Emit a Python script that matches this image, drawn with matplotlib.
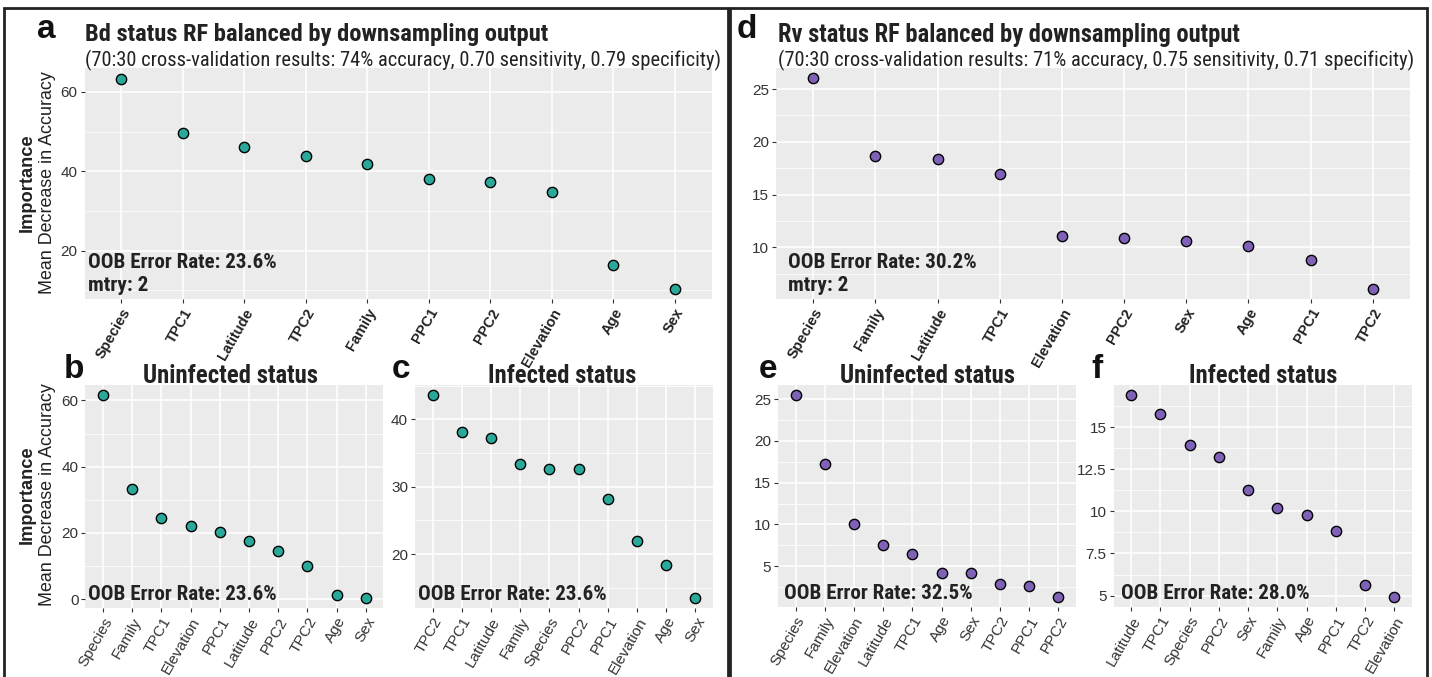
import matplotlib
matplotlib.use("Agg")
import numpy as np
from matplotlib import pyplot as plt
from matplotlib import font_manager as fm
from matplotlib.ticker import MultipleLocator, FormatStrFormatter
from matplotlib.patches import Rectangle

# data
a_vars = ["Species", "TPC1", "Latitude", "TPC2", "Family", "PPC1", "PPC2", "Elevation", "Age", "Sex"]
a_vals = [63.4, 49.6, 46.2, 44.0, 41.9, 38.2, 37.4, 34.8, 16.4, 10.5]
b_vars = ["Species", "Family", "TPC1", "Elevation", "PPC1", "Latitude", "PPC2", "TPC2", "Age", "Sex"]
b_vals = [61.6, 33.2, 24.5, 22.0, 20.3, 17.7, 14.5, 10.1, 1.3, 0.4]
c_vars = ["TPC2", "TPC1", "Latitude", "Family", "Species", "PPC2", "PPC1", "Elevation", "Age", "Sex"]
c_vals = [43.6, 38.2, 37.2, 33.4, 32.7, 32.7, 28.2, 22.0, 18.4, 13.5]
d_vars = ["Species", "Family", "Latitude", "TPC1", "Elevation", "PPC2", "Sex", "Age", "PPC1", "TPC2"]
d_vals = [26.0, 18.7, 18.4, 16.95, 11.1, 10.9, 10.6, 10.1, 8.8, 6.1]
e_vars = ["Species", "Family", "Elevation", "Latitude", "TPC1", "Age", "Sex", "TPC2", "PPC1", "PPC2"]
e_vals = [25.5, 17.2, 10.0, 7.5, 6.4, 4.2, 4.2, 2.8, 2.6, 1.3]
f_vars = ["Latitude", "TPC1", "Species", "PPC2", "Sex", "Family", "Age", "PPC1", "TPC2", "Elevation"]
f_vals = [16.9, 15.8, 13.95, 13.2, 11.25, 10.18, 9.78, 8.85, 5.6, 4.92]

TEAL = "#2aa89a"
PURPLE = "#7f62b8"
SANS = ["Liberation Sans", "DejaVu Sans"]
INK = "#222222"


def find_condensed(bold):
    # look for any condensed / narrow sans installed, else None
    pref = ["Roboto Condensed", "Liberation Sans Narrow", "Open Sans Condensed",
            "DejaVu Sans Condensed", "Noto Sans Condensed", "DejaVu Sans"]
    best = None
    for f in fm.fontManager.ttflist:
        st = f.stretch
        cond = ("Condensed" in f.name or "Narrow" in f.name or
                st in ("condensed", "semi-condensed", "extra-condensed") or
                (isinstance(st, (int, float)) and st < 500))
        if not cond or f.style != "normal":
            continue
        w = f.weight if isinstance(f.weight, (int, float)) else fm.weight_dict.get(f.weight, 400)
        if bold != (w >= 600):
            continue
        rank = pref.index(f.name) if f.name in pref else len(pref)
        key = (rank, abs(w - (700 if bold else 400)))
        if best is None or key < best[0]:
            best = (key, f.fname)
    return best[1] if best else None


cond_reg = find_condensed(False)
cond_bold = find_condensed(True)


def cprops(bold):
    path = cond_bold if bold else cond_reg
    if path:
        return fm.FontProperties(fname=path)
    return fm.FontProperties(family="DejaVu Sans", weight="bold" if bold else "normal")


W, H = 1432, 677
fig = plt.figure(figsize=(W / 100, H / 100), dpi=100)
renderer = fig.canvas.get_renderer()
to_fit = []


def box(x0, y0, x1, y1):
    # pixel coords (top-left origin) -> figure fraction
    return [x0 / W, 1 - y1 / H, (x1 - x0) / W, (y1 - y0) / H]


def ftext(x, y, s, **kw):
    return fig.text(x / W, 1 - y / H, s, **kw)


def ctext(obj, s, width, bold, x, y, **kw):
    # condensed text whose size is fit to the width seen in the reference
    t = obj.text(x, y, s, fontproperties=cprops(bold), color=INK, **kw)
    t.set_fontsize(12)
    to_fit.append((t, width))
    return t


def panel(rect, vars, vals, color, major, bold_x, oob, mtry=None, oob_x=0.01, oob_y=0.06):
    ax = fig.add_axes(box(*rect))
    ax.set_facecolor("#ebebeb")
    x = np.arange(len(vars))
    ax.scatter(x, vals, s=55, c=color, edgecolors="black", linewidths=1.0, zorder=3)
    ax.set_xlim(-0.6, len(vars) - 0.4)
    lo, hi = min(vals), max(vals)
    pad = (hi - lo) * 0.05
    ax.set_ylim(lo - pad, hi + pad)
    ax.yaxis.set_major_locator(MultipleLocator(major))
    ax.yaxis.set_minor_locator(MultipleLocator(major / 2))
    ax.yaxis.set_major_formatter(FormatStrFormatter("%g"))
    ax.set_xticks(x)
    if bold_x:
        ax.set_xticklabels(vars, rotation=60, ha="right", rotation_mode="anchor",
                           fontsize=10.5, fontweight="bold", family=SANS, color=INK)
    else:
        ax.set_xticklabels(vars, rotation=60, ha="right", rotation_mode="anchor",
                           fontsize=11, family=SANS, color="#333333")
    for lab in ax.get_yticklabels():
        lab.set_fontsize(11)
        lab.set_family(SANS)
        lab.set_color("#333333")
    ax.grid(which="major", color="white", linewidth=1.1)
    ax.grid(which="minor", axis="y", color="white", linewidth=0.55)
    ax.set_axisbelow(True)
    ax.tick_params(which="major", length=3, color="#333333", width=0.8, pad=2)
    ax.tick_params(which="minor", length=0)
    for sp in ax.spines.values():
        sp.set_visible(False)
    pw = (rect[2] - rect[0])
    ctext(ax, "OOB Error Rate: " + oob, 189 / pw, True, oob_x, oob_y + (0.1 if mtry else 0),
          transform=ax.transAxes, va="center")
    if mtry:
        ctext(ax, "mtry: " + mtry, 60 / pw, True, oob_x, oob_y, transform=ax.transAxes, va="center")
    return ax


# outer boxes, open at the bottom edge like the crop in the reference
fig.patches.append(Rectangle((4 / W, -0.05), 724 / W, 1.05 - 8 / H, transform=fig.transFigure,
                             fill=False, edgecolor=INK, linewidth=2))
fig.patches.append(Rectangle((729.5 / W, -0.05), 697.5 / W, 1.05 - 8 / H, transform=fig.transFigure,
                             fill=False, edgecolor=INK, linewidth=2))

# Bd panels
panel((84.5, 68, 711.5, 299), a_vars, a_vals, TEAL, 20, True, "23.6%", "2", 0.006, 0.06)
panel((85.4, 385, 383.4, 608), b_vars, b_vals, TEAL, 20, False, "23.6%", None, 0.01, 0.06)
panel((415, 385, 713, 608), c_vars, c_vals, TEAL, 10, False, "23.6%", None, 0.01, 0.06)

# Rv panels
panel((776, 68, 1410, 299), d_vars, d_vals, PURPLE, 5, True, "30.2%", "2", 0.019, 0.06)
panel((778, 385, 1076, 607), e_vars, e_vals, PURPLE, 5, False, "32.5%", None, 0.019, 0.06)
panel((1113.5, 385, 1412, 607), f_vars, f_vals, PURPLE, 2.5, False, "28.0%", None, 0.025, 0.06)

# titles (widths in figure fraction)
ctext(fig, "Bd status RF balanced by downsampling output", 463 / W, True, 85 / W, 1 - 35 / H, va="center")
ctext(fig, "(70:30 cross-validation results: 74% accuracy, 0.70 sensitivity, 0.79 specificity)",
      633 / W, False, 85 / W, 1 - 60 / H, va="center")
ctext(fig, "Rv status RF balanced by downsampling output", 463 / W, True, 778 / W, 1 - 35 / H, va="center")
ctext(fig, "(70:30 cross-validation results: 71% accuracy, 0.75 sensitivity, 0.71 specificity)",
      633 / W, False, 778 / W, 1 - 60 / H, va="center")
for cx, s, wd in [(231, "Uninfected status", 175), (562, "Infected status", 148),
                  (927, "Uninfected status", 175), (1263, "Infected status", 148)]:
    ctext(fig, s, wd / W, True, cx / W, 1 - 376 / H, ha="center", va="center")

# panel letters
for lx, ly, s in [(46, 30, "a"), (74, 370, "b"), (401, 370, "c"), (747, 30, "d"), (768, 370, "e"), (1097, 370, "f")]:
    ftext(lx, ly, s, fontsize=24, fontweight="bold", family=SANS, ha="center", va="center", color="#111111")

# y labels, sized to the reference lengths
ylabs = []
for cy in [183, 495]:
    ylabs.append((ftext(27, cy, "Importance", fontsize=12, fontweight="bold", family=SANS, rotation=90,
                        ha="center", va="center", color=INK), 98))
    ylabs.append((ftext(48, cy, "Mean Decrease in Accuracy", fontsize=12, family=SANS, rotation=90,
                        ha="center", va="center", color=INK), 223))
for t, px in ylabs:
    h = t.get_window_extent(renderer).height
    t.set_fontsize(t.get_fontsize() * px / h)

# scale condensed texts to the reference widths
for t, frac in to_fit:
    w = t.get_window_extent(renderer).width
    target = frac * (W if t.get_transform() == fig.transFigure else t.axes.bbox.width)
    t.set_fontsize(t.get_fontsize() * target / w)

fig.savefig("out.png", dpi=100)
